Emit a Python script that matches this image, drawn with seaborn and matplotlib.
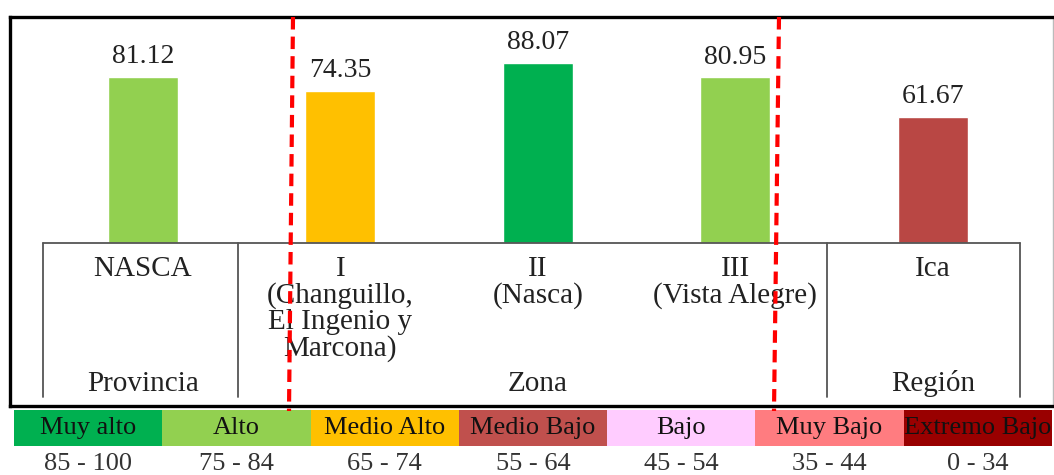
import pandas as pd
import matplotlib.pyplot as plt
import seaborn as sns
from matplotlib.lines import Line2D
from matplotlib.patches import Rectangle

# datos del grafico
categorias = ["NASCA", "I\n(Changuillo,\nEl Ingenio y\nMarcona)", "II\n(Nasca)",
              "III\n(Vista Alegre)", "Ica"]
valores = [81.12, 74.35, 88.07, 80.95, 61.67]
colores_barras = ["#92D050", "#FFC000", "#00B050", "#92D050", "#B94744"]
grupos = ["Provincia", "Zona", "Zona", "Zona", "Región"]

niveles = ["Muy alto", "Alto", "Medio Alto", "Medio Bajo", "Bajo", "Muy Bajo", "Extremo Bajo"]
rangos = ["85 - 100", "75 - 84", "65 - 74", "55 - 64", "45 - 54", "35 - 44", "0 - 34"]
colores_niveles = ["#00B050", "#92D050", "#FFC000", "#C0504D", "#FFCCFF", "#FF7C80", "#990000"]

df = pd.DataFrame({"cat": categorias, "valor": valores, "grupo": grupos})

sns.set_theme(style="white")
plt.rcParams['font.family'] = ['Liberation Serif', 'DejaVu Serif']

W, H = 1054, 475
fig = plt.figure(figsize=(W / 100, H / 100), dpi=100)


def fx(x):
    return x / W


def fy(y):
    return 1 - y / H


# caja principal (pixeles 10..1053 x 17..406)
ax = fig.add_axes([fx(10), fy(406), fx(1053) - fx(10), fy(17) - fy(406)])
sns.barplot(data=df, x="cat", y="valor", hue="cat", palette=colores_barras,
            legend=False, width=0.355, saturation=1, ax=ax, zorder=2)

ax.set_xlim(-0.673, 4.608)
ax.set_ylim(-79.7, 110.5)
ax.set_xticks([])
ax.set_yticks([])
ax.set_xlabel("")
ax.set_ylabel("")
for s in ["top", "left", "bottom"]:
    ax.spines[s].set_color("black")
    ax.spines[s].set_linewidth(2.4)
ax.spines["right"].set_color("#bbbbbb")
ax.spines["right"].set_linewidth(1)

# etiquetas de valor
for i, v in enumerate(valores):
    ax.annotate(f"{v:.2f}", (i, v), xytext=(0, 10), textcoords="offset points",
                ha="center", va="baseline", fontsize=20, color="#222222")

# tabla debajo de las barras
lc = "#555555"
ylo = -75.3
ax.plot([-0.506, 4.44], [0, 0], color=lc, lw=1.3, zorder=3)
for xv in [-0.506, 0.481, 3.463, 4.44]:
    ax.plot([xv, xv], [0, ylo], color=lc, lw=1.3, zorder=3)

for i, c in enumerate(categorias):
    ax.text(i, -6.2, c, ha="center", va="top", fontsize=21, color="#222222",
            linespacing=1.0)

for g in dict.fromkeys(grupos):
    pos = [i for i, gg in enumerate(grupos) if gg == g]
    ax.text(sum(pos) / len(pos), -72.5, g, ha="center", va="baseline",
            fontsize=21, color="#222222")

# lineas rojas discontinuas
for x0, x1 in [(293, 289), (779, 774)]:
    fig.add_artist(Line2D([fx(x0), fx(x1)], [fy(17), fy(411)], color="#FF0000",
                          lw=3, linestyle=(0, (3, 1.7)), zorder=10))

# leyenda de niveles
x_ini, x_fin = 14, 1052
ancho = (x_fin - x_ini) / len(niveles)
for k, (nv, rg, col) in enumerate(zip(niveles, rangos, colores_niveles)):
    x0 = x_ini + k * ancho
    fig.add_artist(Rectangle((fx(x0), fy(446)), ancho / W, (446 - 410) / H,
                             facecolor=col, edgecolor="none", zorder=5))
    fig.text(fx(x0 + ancho / 2), fy(428), nv, ha="center", va="center",
             fontsize=19, color="#111111", zorder=6)
    fig.text(fx(x0 + ancho / 2), fy(464), rg, ha="center", va="center",
             fontsize=19, color="#333333")

fig.savefig("out.png", dpi=100)
